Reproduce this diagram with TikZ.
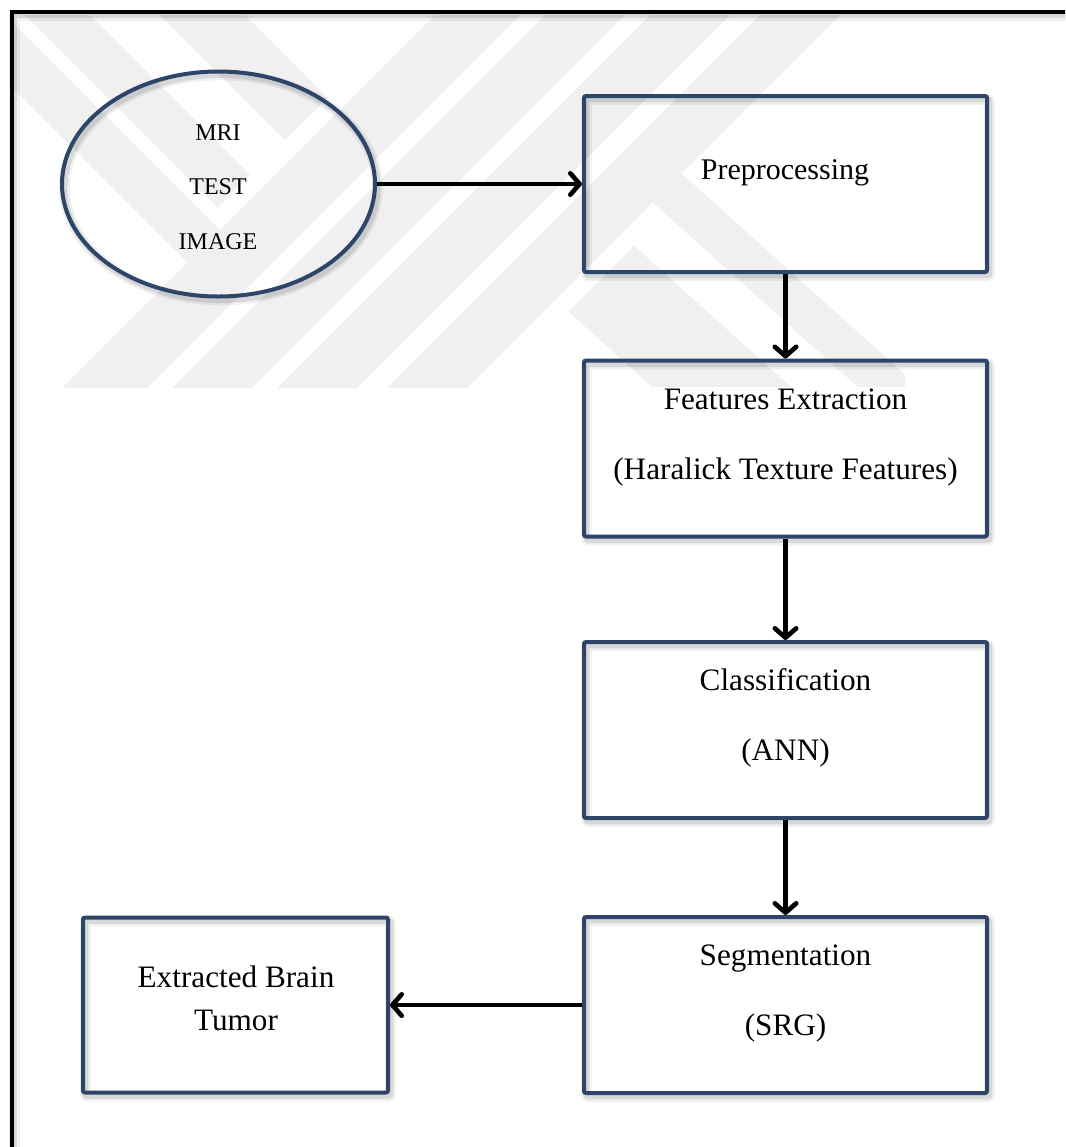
\documentclass[tikz,border=0pt]{standalone}
\usepackage{fontspec}
\setmainfont{Liberation Serif}
\usetikzlibrary{arrows.meta,shapes.geometric}

\definecolor{boxblue}{RGB}{44,69,104}
\definecolor{wmgrey}{RGB}{240,240,240}

\tikzset{
  softshadow/.style={
    preaction={draw=black, draw opacity=0.06, line width=8pt,
                transform canvas={xshift=1.8pt, yshift=-2.6pt}},
    preaction={draw=black, draw opacity=0.10, line width=4.5pt,
                transform canvas={xshift=1.8pt, yshift=-2.6pt}}},
  stepbox/.style={rectangle, draw=boxblue, line width=3pt, rounded corners=1.5pt,
    minimum width=302.25pt, minimum height=132pt, inner sep=0pt, softshadow},
  smallbox/.style={stepbox, minimum width=228.75pt, minimum height=131.25pt},
  inputshape/.style={ellipse, draw=boxblue, line width=3pt,
    minimum width=234.75pt, minimum height=168.75pt, inner sep=0pt, softshadow},
  boxtext/.style={anchor=base, inner sep=0pt, font=\fontsize{23.4}{28}\selectfont},
  titletext/.style={boxtext, font=\fontsize{22.5}{27}\selectfont},
  smalltext/.style={anchor=base, inner sep=0pt, font=\fontsize{18}{21}\selectfont},
  flow/.style={line width=3.5pt, -{Straight Barb[length=7pt, width=16pt, round]}},
}

\begin{document}
\begin{tikzpicture}[x=0.75pt, y=-0.75pt]
  \useasboundingbox (0,0) rectangle (1065,1147);
  \clip (0,0) rectangle (1065,1147);

  % faint watermark bands behind the chart
  \begin{scope}
    \clip (14,15) rectangle (905,387);
    % rising stems
    \foreach \a/\b in {450/535, 560/640, 665/745, 775/855}{
      \fill[wmgrey] (\a+50,-50) -- (\b+50,-50) -- (\b-450,450) -- (\a-450,450) -- cycle;
    }
    % falling bands on the left, meeting the first stem
    \begin{scope}
      \clip (14,15) -- (435,15) -- (14,436) -- cycle;
      \fill[wmgrey] (-100,-90) -- (600,610) -- (600,675) -- (-100,-25) -- cycle;
    \end{scope}
    \begin{scope}
      \clip (14,15) -- (410,15) -- (14,411) -- cycle;
      \fill[wmgrey] (-100,-110) -- (600,590) -- (600,525) -- (-100,-175) -- cycle;
      \fill[wmgrey] (-100,-245) -- (600,455) -- (600,370) -- (-100,-330) -- cycle;
    \end{scope}
    % falling legs on the right, leaving the last stem
    \begin{scope}
      \clip (905,-50) -- (1065,-50) -- (1065,387) -- (468,387) -- cycle;
      \fill[wmgrey] (500,10) -- (1100,550) -- (1100,605) -- (500,65) -- cycle;
    \end{scope}
    \begin{scope}
      \clip (930,-50) -- (1065,-50) -- (1065,387) -- (493,387) -- cycle;
      \fill[wmgrey] (500,125) -- (1100,665) -- (1100,790) -- (500,250) -- cycle;
    \end{scope}
  \end{scope}

  % page frame
  \draw[line width=3pt, softshadow] (12,1170) -- (12,12) -- (1085,12);

  % shapes
  \node[inputshape] (mri) at (218.5,184) {};
  \node[stepbox] (pre)  at (785.5,184)   {};
  \node[stepbox] (feat) at (785.5,448.5) {};
  \node[stepbox] (cls)  at (785.5,730)   {};
  \node[stepbox] (seg)  at (785.5,1005)  {};
  \node[smallbox] (ext) at (235.5,1005)  {};

  % labels
  \node[smalltext] (mri-l1) at (218,140) {MRI};
  \node[smalltext] (mri-l2) at (218,194) {TEST};
  \node[smalltext] (mri-l3) at (218,249) {IMAGE};
  \node[titletext] (pre-l) at (785,179)    {Preprocessing};
  \node[boxtext] (feat-l1) at (785.5,409)  {Features Extraction};
  \node[boxtext] (feat-l2) at (785.5,479)  {(Haralick Texture Features)};
  \node[boxtext] (cls-l1)  at (785.5,690)  {Classification};
  \node[boxtext] (cls-l2)  at (785.5,760)  {(ANN)};
  \node[boxtext] (seg-l1)  at (785.5,965)  {Segmentation};
  \node[boxtext] (seg-l2)  at (785.5,1035) {(SRG)};
  \node[boxtext] (ext-l1)  at (236,987)    {Extracted Brain};
  \node[boxtext] (ext-l2)  at (236,1030)   {Tumor};

  % flow
  \draw[flow] (mri) -- (pre);
  \draw[flow] (pre) -- (feat);
  \draw[flow] (feat) -- (cls);
  \draw[flow] (cls) -- (seg);
  \draw[flow] (seg) -- (ext);
\end{tikzpicture}
\end{document}
